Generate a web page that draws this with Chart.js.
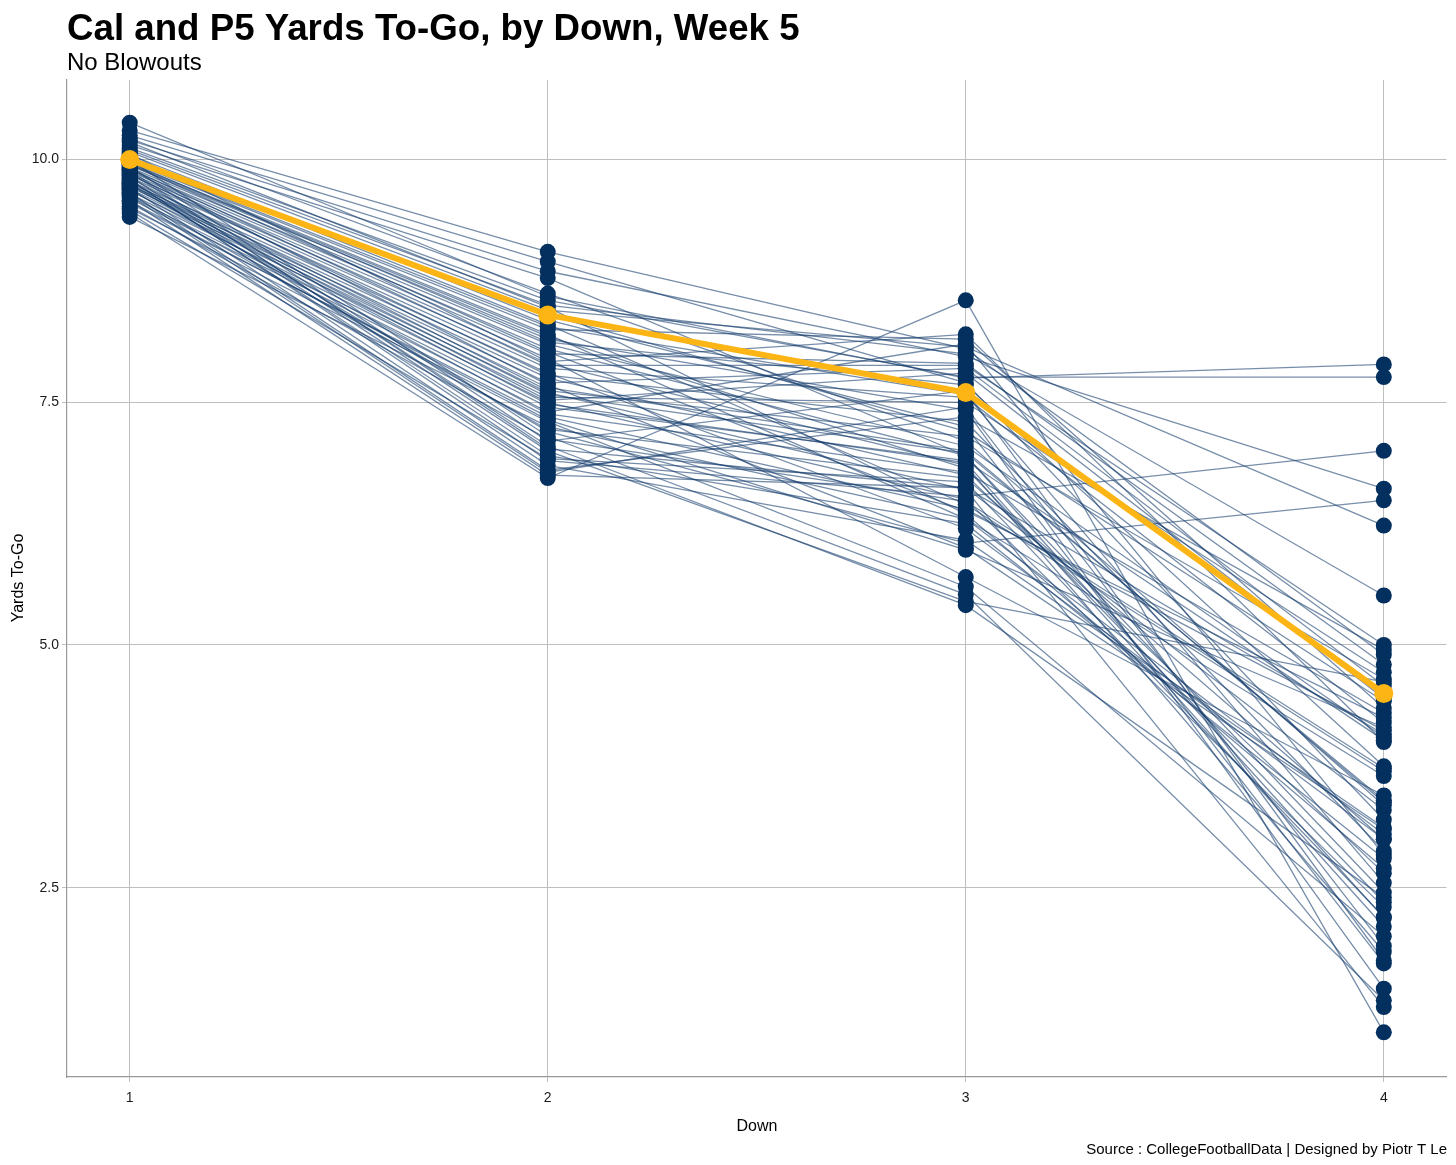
<!DOCTYPE html>
<html>
<head>
<meta charset="utf-8">
<script src="https://cdn.jsdelivr.net/npm/chart.js@4.4.0/dist/chart.umd.min.js"></script>
<style>
  html, body { margin: 0; padding: 0; background: #ffffff; }
  #wrap { width: 1456px; height: 1165px; position: relative; }
  canvas { display: block; }
</style>
</head>
<body>
<div id="wrap"><canvas id="c" width="1456" height="1165"></canvas></div>
<script>
// ---- Data ----
const downs = [1, 2, 3, 4];
const yTickValues = [2.5, 5.0, 7.5, 10.0];
const calYards = [10.0, 8.4, 7.6, 4.5];
// one entry per P5 team (same index = same team)
const down1Yards = [10.30,10.25,10.20,10.15,9.45,10.38,10.12,10.10,10.08,9.80,9.75,10.05,10.03,9.98,9.96,9.94,9.92,9.90,9.88,9.86,9.84,9.82,9.78,9.76,9.74,9.72,9.70,9.68,9.65,9.62,9.60,9.55,9.50,9.41,10.00,9.93,9.87,9.83,9.79,9.71,9.66,9.58,10.02,9.97,9.91,9.85,9.81,9.77,9.73,9.69,9.64,9.52,9.99,9.95,9.89,9.48,10.18,10.06,9.90,9.63,10.22,9.57,9.95,9.75];
const down2Yards = [9.05,8.95,8.85,8.78,6.72,8.59,8.55,8.50,8.45,6.90,7.20,8.35,8.30,8.25,8.20,8.15,8.10,8.05,8.00,7.95,7.90,7.85,7.80,7.75,7.70,7.65,7.60,7.55,7.50,7.45,7.40,7.35,7.30,7.25,7.15,7.10,7.05,7.00,6.95,6.85,6.80,6.75,8.40,8.12,7.88,7.78,7.62,7.58,7.48,7.38,7.22,7.12,8.28,8.02,7.02,6.92,8.48,7.92,7.68,6.78,8.62,7.32,8.18,7.52];
const down3Yards = [8.05,7.70,7.97,6.95,8.55,7.75,7.76,8.00,8.07,6.53,6.05,7.25,6.45,8.15,6.30,7.42,7.05,6.95,7.90,5.70,6.85,7.55,6.20,6.75,7.85,7.00,6.60,7.50,6.50,6.90,8.10,6.40,5.60,6.30,5.52,7.62,5.41,5.45,6.25,6.08,7.35,6.62,7.20,7.68,7.88,7.30,7.15,6.98,6.88,6.78,6.72,6.48,7.58,6.38,6.62,6.68,6.35,8.20,6.00,7.45,7.10,5.98,6.82,7.80];
const down4Yards = [4.90,3.20,6.61,2.45,1.01,7.89,7.76,5.51,6.23,7.00,6.49,1.72,3.70,4.35,3.05,1.46,4.05,2.19,4.80,3.45,1.84,4.20,3.00,2.65,4.58,3.38,1.27,4.72,2.30,4.02,2.84,4.12,2.00,3.65,1.34,1.75,2.40,4.62,2.80,3.12,4.95,3.30,4.42,3.75,5.00,2.88,4.65,3.40,2.10,4.30,3.00,3.73,2.55,4.25,4.08,2.20,2.70,4.00,3.10,1.90,3.35,4.15,2.35,4.45];

const titleText = 'Cal and P5 Yards To-Go, by Down, Week 5';
const subtitleText = 'No Blowouts';
const xTitleText = 'Down';
const yTitleText = 'Yards To-Go';
const captionText = 'Source : CollegeFootballData | Designed by Piotr T Le';

// ---- Build datasets ----
const perDown = [down1Yards, down2Yards, down3Yards, down4Yards];
const teamDatasets = down1Yards.map((_, i) => ({
  type: 'line',
  data: downs.map((d, k) => ({ x: d, y: perDown[k][i] })),
  borderColor: 'rgba(20, 60, 108, 0.58)',
  borderWidth: 1.3,
  pointRadius: 0,
  tension: 0,
  fill: false,
  order: 3
}));
const allPoints = [];
down1Yards.forEach((_, i) => downs.forEach((d, k) => allPoints.push({ x: d, y: perDown[k][i] })));
const pointDataset = {
  type: 'scatter',
  data: allPoints,
  pointRadius: 8,
  pointHoverRadius: 8,
  backgroundColor: '#03305E',
  borderWidth: 0,
  order: 2
};
const calDataset = {
  type: 'line',
  data: downs.map((d, k) => ({ x: d, y: calYards[k] })),
  borderColor: '#FDB515',
  backgroundColor: '#FDB515',
  borderWidth: 6,
  pointRadius: 9.5,
  pointBackgroundColor: '#FDB515',
  pointBorderWidth: 0,
  tension: 0,
  fill: false,
  order: 1
};

const textPlugin = {
  id: 'texts',
  afterDraw(chart) {
    const ctx = chart.ctx;
    ctx.save();
    ctx.fillStyle = '#000000';
    ctx.textBaseline = 'alphabetic';
    ctx.textAlign = 'left';
    ctx.font = 'bold 36.7px "Liberation Sans", Arial, sans-serif';
    ctx.fillText(titleText, 67, 40);
    ctx.font = '24px "Liberation Sans", Arial, sans-serif';
    ctx.fillText(subtitleText, 67, 70);
    ctx.font = '16px "Liberation Sans", Arial, sans-serif';
    ctx.textAlign = 'center';
    ctx.fillText(xTitleText, 757, 1131);
    ctx.save();
    ctx.translate(23, 578);
    ctx.rotate(-Math.PI / 2);
    ctx.fillText(yTitleText, 0, 0);
    ctx.restore();
    ctx.font = '15px "Liberation Sans", Arial, sans-serif';
    ctx.textAlign = 'right';
    ctx.fillText(captionText, 1447, 1154);
    ctx.restore();
  }
};

new Chart(document.getElementById('c'), {
  data: { datasets: [calDataset, pointDataset, ...teamDatasets] },
  options: {
    responsive: false,
    animation: false,
    devicePixelRatio: 1,
    layout: { padding: { left: 0, top: 80, right: 9, bottom: 0 } },
    plugins: { legend: { display: false }, tooltip: { enabled: false }, title: { display: false } },
    scales: {
      x: {
        type: 'linear',
        min: 0.85,
        max: 4.15,
        afterFit(scale) { scale.height = 88; },
        afterBuildTicks(scale) { scale.ticks = downs.map(v => ({ value: v })); },
        grid: { color: '#BEBEBE', lineWidth: 1, drawTicks: true, tickLength: 5, tickColor: '#BEBEBE' },
        border: { display: true, color: '#999999', width: 1.2 },
        ticks: {
          color: '#1a1a1a',
          font: { family: '"Liberation Sans", Arial, sans-serif', size: 14 },
          padding: 8,
          autoSkip: false,
          maxRotation: 0,
          callback: v => String(v)
        }
      },
      y: {
        type: 'linear',
        min: 0.55,
        max: 10.82,
        afterFit(scale) { scale.width = 67; },
        afterBuildTicks(scale) { scale.ticks = yTickValues.map(v => ({ value: v })); },
        grid: { color: '#BEBEBE', lineWidth: 1, drawTicks: true, tickLength: 5, tickColor: '#BEBEBE' },
        border: { display: true, color: '#999999', width: 1.2 },
        ticks: {
          color: '#1a1a1a',
          font: { family: '"Liberation Sans", Arial, sans-serif', size: 14 },
          padding: 3,
          autoSkip: false,
          callback: v => Number(v).toFixed(1)
        }
      }
    }
  },
  plugins: [textPlugin]
});
</script>
</body>
</html>
